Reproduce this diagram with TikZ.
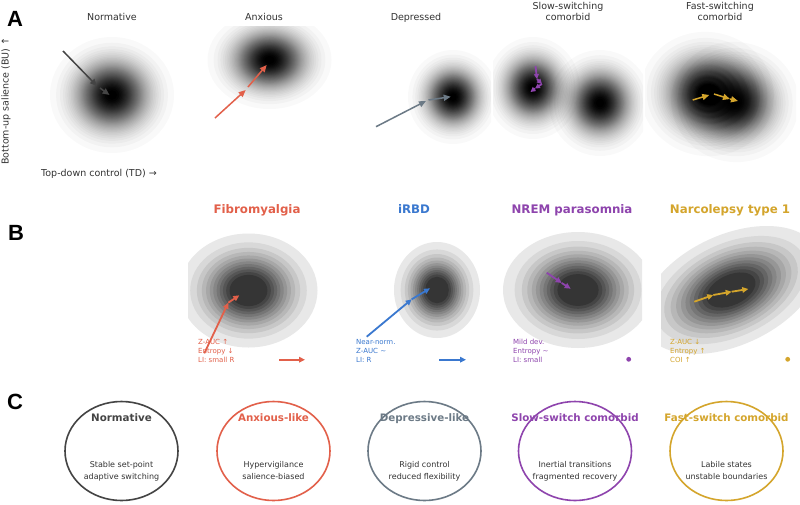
\documentclass[tikz,border=0pt]{standalone}
\usepackage{fontspec}
\setmainfont{DejaVu Sans}
\newfontfamily\panelfont{Liberation Sans}
\usepackage{tikz}
\usetikzlibrary{arrows.meta}
\definecolor{normline}{HTML}{444444}
\definecolor{anxline}{HTML}{E2604A}
\definecolor{depline}{HTML}{6C7A86}
\definecolor{slowline}{HTML}{8E44AD}
\definecolor{fastline}{HTML}{D4A52C}
\definecolor{rbdline}{HTML}{3A78CF}
\definecolor{txtgray}{HTML}{333333}

% smooth density: stacked levels, darker towards the core
\newcommand{\softblob}[5]{%
  \foreach \k in {1,...,40}{%
    \pgfmathsetmacro{\sc}{sqrt(ln(41/\k)/ln(41))}%
    \pgfmathsetmacro{\op}{1/(41-\k)}%
    \pgfmathsetmacro{\rxx}{#3*\sc}%
    \pgfmathsetmacro{\ryy}{#4*\sc}%
    \fill[black, fill opacity=\op, rotate around={#5:(#1,#2)}]
      (#1,#2) ellipse [x radius=\rxx, y radius=\ryy];
  }}
% banded density: a dozen contour levels
\newcommand{\bandblob}[5]{%
  \foreach \k in {1,...,12}{%
    \pgfmathsetmacro{\lev}{0.05+(\k-1)*0.068}%
    \pgfmathsetmacro{\sc}{sqrt(ln(\lev)/ln(0.05))}%
    \pgfmathsetmacro{\dk}{9+(\k-1)*6.4}%
    \pgfmathsetmacro{\rxx}{#3*\sc}%
    \pgfmathsetmacro{\ryy}{#4*\sc}%
    \fill[black!\dk, rotate around={#5:(#1,#2)}]
      (#1,#2) ellipse [x radius=\rxx, y radius=\ryy];
  }}

\begin{document}
\begin{tikzpicture}[
  x=1pt, y=-1pt,
  font=\fontsize{9.5}{11.5}\selectfont,
  panlbl/.style={font=\panelfont\bfseries\fontsize{22}{22}\selectfont, inner sep=0, anchor=base west},
  ttl/.style={text=txtgray, align=center, inner sep=0, anchor=south, text depth=0pt},
  axlbl/.style={text=txtgray, inner sep=0},
  dz/.style={font=\bfseries\fontsize{11.8}{14}\selectfont, inner sep=0, anchor=base},
  note/.style={font=\fontsize{7}{9}\selectfont, align=left, inner sep=0, anchor=south west, text depth=0pt},
  traj/.style={line width=1.5pt, -{Triangle[length=7pt, width=6pt]}},
  trajs/.style={line width=1.8pt, -{Triangle[length=5pt, width=5pt]}},
  trajb/.style={line width=1.8pt, -{Triangle[length=6pt, width=5.5pt]}},
  arch/.style={line width=1.6pt},
  archttl/.style={font=\bfseries\fontsize{10.3}{12}\selectfont, inner sep=0, anchor=base},
  archtxt/.style={text=txtgray, font=\fontsize{8}{11.5}\selectfont, align=center, inner sep=0, anchor=south, text depth=0pt}
]
  \path[use as bounding box, fill=white] (0,0) rectangle (800,504);

  % Row A: simulated landscapes
  \begin{scope}
    \clip (36,26) rectangle (187,172);
    \softblob{112}{95}{62}{58}{0}
  \end{scope}
  \begin{scope}
    \clip (189,26) rectangle (339,172);
    \softblob{269.5}{60}{62}{49}{0}
  \end{scope}
  \begin{scope}
    \clip (340,26) rectangle (491,172);
    \softblob{453}{97}{45}{47}{0}
  \end{scope}
  \begin{scope}
    \clip (493,26) rectangle (643,172);
    \softblob{533}{88}{47}{51}{0}
    \softblob{600}{103}{51}{53}{0}
  \end{scope}
  \begin{scope}
    \clip (645,26) rectangle (796,172);
    \softblob{707}{94}{67}{62}{-10}
    \softblob{735}{102}{64}{60}{-10}
  \end{scope}

  \node[panlbl] (lblA) at (7,26) {A};
  \node[ttl] (tnorm) at (112,20.7) {Normative};
  \node[ttl] (tanx)  at (264,20.7) {Anxious};
  \node[ttl] (tdep)  at (416,20.7) {Depressed};
  \node[ttl] (tslow) at (568,20.7) {Slow-switching\\comorbid};
  \node[ttl] (tfast) at (720,20.7) {Fast-switching\\comorbid};
  \node[axlbl, anchor=base] (xlab) at (99,176.5) {Top-down control (TD) →};
  \node[axlbl, rotate=90] (ylab) at (6,101) {Bottom-up salience (BU) ↑};

  % trajectories, row A
  \coordinate (n0) at (63,51);    \coordinate (n1) at (97,86);
  \coordinate (n2) at (100,88);   \coordinate (n3) at (109.5,95);
  \coordinate (a0) at (215,118);  \coordinate (a1) at (245.7,90);
  \coordinate (a2) at (248,87);   \coordinate (a3) at (266.7,65);
  \coordinate (d0) at (376,126.7);\coordinate (d1) at (426,101);
  \coordinate (d2) at (428.5,100);\coordinate (d3) at (450.7,96.7);
  \coordinate (s0) at (535.5,66); \coordinate (s1) at (537,79);
  \coordinate (s2) at (542,84);   \coordinate (s3) at (535,88.5);
  \coordinate (s4) at (530.5,92);
  \coordinate (f0) at (692.7,100);\coordinate (f1) at (709.3,95);
  \coordinate (f2) at (714,94);   \coordinate (f3) at (730,99);
  \coordinate (f4) at (738,101);
  \draw[traj, normline] (n0) -- (n1);
  \draw[traj, normline] (n2) -- (n3);
  \draw[traj, anxline] (a0) -- (a1);
  \draw[traj, anxline] (a2) -- (a3);
  \draw[traj, depline] (d0) -- (d1);
  \draw[traj, depline] (d2) -- (d3);
  \foreach \p/\q in {s0/s1, s1/s2, s2/s3, s3/s4}
    \draw[trajs, slowline] (\p) -- (\q);
  \draw[traj, fastline] (f0) -- (f1);
  \draw[traj, fastline] (f2) -- (f3);
  \draw[traj, fastline] (f3) -- (f4);

  % Row B: clinical groups
  \begin{scope}
    \clip (188,225) rectangle (326,368);
    \bandblob{248.5}{290.5}{69}{57}{0}
  \end{scope}
  \begin{scope}
    \clip (345,225) rectangle (483,368);
    \bandblob{437}{290}{43}{48}{0}
  \end{scope}
  \begin{scope}
    \clip (502,225) rectangle (642,368);
    \bandblob{578}{290}{75}{58}{0}
  \end{scope}
  \begin{scope}
    \clip (661,225) rectangle (800,368);
    \bandblob{731}{290}{95}{55}{25}
  \end{scope}

  \node[panlbl] (lblB) at (8,240) {B};
  \node[dz, text=anxline]  (gfib)  at (257,213.5) {Fibromyalgia};
  \node[dz, text=rbdline]  (grbd)  at (414,213.5) {iRBD};
  \node[dz, text=slowline] (gnrem) at (572,213.5) {NREM parasomnia};
  \node[dz, text=fastline] (gnt1)  at (730,213.5) {Narcolepsy type 1};

  \node[note, text=anxline]  (mfib)  at (198,363) {Z-AUC ↑\\Entropy ↓\\LI: small R};
  \node[note, text=rbdline]  (mrbd)  at (356,363) {Near-norm.\\Z-AUC \textasciitilde\\LI: R};
  \node[note, text=slowline] (mnrem) at (513,363) {Mild dev.\\Entropy \textasciitilde\\LI: small};
  \node[note, text=fastline] (mnt1)  at (670,363) {Z-AUC ↓\\Entropy ↑\\COI ↑};

  % trajectories, row B
  \coordinate (b0) at (204.3,353.3); \coordinate (b1) at (228.3,302.7);
  \coordinate (b2) at (239.3,295.3);
  \coordinate (r0) at (366.7,336.7); \coordinate (r1) at (411.7,299.3);
  \coordinate (r2) at (430,288.3);
  \coordinate (p0) at (546.7,272.7); \coordinate (p1) at (561.7,283);
  \coordinate (p2) at (570.7,288.7);
  \coordinate (k0) at (694.3,301.7); \coordinate (k1) at (713.3,295);
  \coordinate (k2) at (731.7,291.7); \coordinate (k3) at (748.3,289);
  \foreach \p/\q in {b0/b1, b1/b2}
    \draw[trajb, anxline] (\p) -- (\q);
  \foreach \p/\q in {r0/r1, r1/r2}
    \draw[trajb, rbdline] (\p) -- (\q);
  \foreach \p/\q in {p0/p1, p1/p2}
    \draw[trajb, slowline] (\p) -- (\q);
  \foreach \p/\q in {k0/k1, k1/k2, k2/k3}
    \draw[trajb, fastline] (\p) -- (\q);

  % laterality markers
  \coordinate (lf0) at (279,359.7);  \coordinate (lf1) at (305,359.7);
  \coordinate (lr0) at (439,359.7);  \coordinate (lr1) at (466,359.7);
  \draw[trajb, anxline, line width=2.4pt] (lf0) -- (lf1);
  \draw[trajb, rbdline, line width=2.4pt] (lr0) -- (lr1);
  \fill[slowline] (628.7,359.3) circle (2.4);
  \fill[fastline] (787.7,359.3) circle (2.4);

  % Row C: archetypes
  \node[panlbl] (lblC) at (7,409.3) {C};
  \draw[arch, normline] (121.5,451) ellipse [x radius=56.5, y radius=49.5];
  \draw[arch, anxline]  (273.5,451) ellipse [x radius=56.5, y radius=49.5];
  \draw[arch, depline]  (424.5,451) ellipse [x radius=56.5, y radius=49.5];
  \draw[arch, slowline] (575,451)   ellipse [x radius=56.5, y radius=49.5];
  \draw[arch, fastline] (726.5,451) ellipse [x radius=56.5, y radius=49.5];

  \node[archttl, text=normline] (cnorm) at (121.5,421) {Normative};
  \node[archttl, text=anxline]  (canx)  at (273.5,421) {Anxious-like};
  \node[archttl, text=depline]  (cdep)  at (424.5,421) {Depressive-like};
  \node[archttl, text=slowline] (cslow) at (575,421)   {Slow-switch comorbid};
  \node[archttl, text=fastline] (cfast) at (726.5,421) {Fast-switch comorbid};

  \node[archtxt] (dnorm) at (121.5,479.5) {Stable set-point\\adaptive switching};
  \node[archtxt] (danx)  at (273.5,479.5) {Hypervigilance\\salience-biased};
  \node[archtxt] (ddep)  at (424.5,479.5) {Rigid control\\reduced flexibility};
  \node[archtxt] (dslow) at (575,479.5)   {Inertial transitions\\fragmented recovery};
  \node[archtxt] (dfast) at (726.5,479.5) {Labile states\\unstable boundaries};
\end{tikzpicture}
\end{document}
